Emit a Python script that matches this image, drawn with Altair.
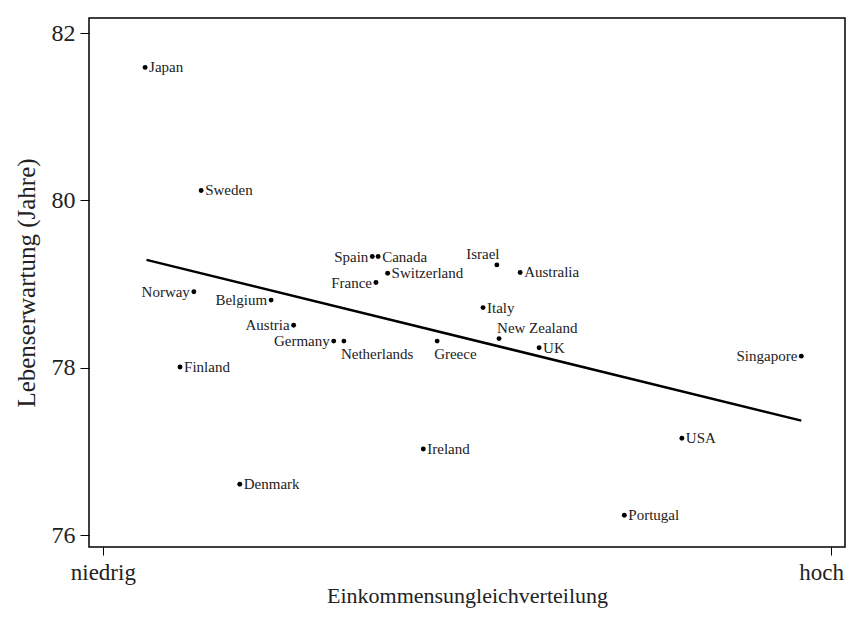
import altair as alt
import pandas as pd

# ---- data ----
countries = ["Japan", "Sweden", "Norway", "Belgium", "Austria", "Germany", "Netherlands",
             "Finland", "Denmark", "Spain", "Canada", "France", "Switzerland", "Israel",
             "Australia", "Italy", "New Zealand", "UK", "Greece", "Ireland", "USA",
             "Portugal", "Singapore"]
inequality = [0.058, 0.135, 0.125, 0.231, 0.262, 0.317, 0.331,
              0.106, 0.188, 0.370, 0.378, 0.375, 0.391, 0.541,
              0.573, 0.522, 0.544, 0.599, 0.459, 0.440, 0.795,
              0.716, 0.959]
life_exp = [81.59, 80.12, 78.91, 78.81, 78.51, 78.32, 78.32,
            78.01, 76.61, 79.33, 79.33, 79.02, 79.13, 79.23,
            79.14, 78.72, 78.35, 78.24, 78.32, 77.03, 77.16,
            76.24, 78.14]
label_side = ["r", "r", "l", "l", "l", "l", "below",
              "r", "r", "l", "r", "l", "r", "above",
              "r", "r", "aboveright", "r", "below", "r", "r",
              "r", "l"]

fit_x = [0.060, 0.959]
fit_y = [79.29, 77.37]

x_tick_values = [0, 1]
x_tick_labels = ["niedrig", "hoch"]
y_tick_values = [76, 78, 80, 82]

x_title = "Einkommensungleichverteilung"
y_title = "Lebenserwartung (Jahre)"

FONT = "Liberation Serif"

df = pd.DataFrame({"country": countries, "x": inequality, "y": life_exp, "side": label_side})
fit_df = pd.DataFrame({"x": fit_x, "y": fit_y})

label_expr = " : ".join(
    [f"datum.value == {v} ? '{t}'" for v, t in zip(x_tick_values[:-1], x_tick_labels[:-1])]
    + [f"'{x_tick_labels[-1]}'"]
)

xscale = alt.Scale(domain=[-0.019, 1.019], nice=False, zero=False)
yscale = alt.Scale(domain=[75.86, 82.18], nice=False, zero=False)

xenc = alt.X("x:Q", scale=xscale,
             axis=alt.Axis(values=x_tick_values, labelExpr=label_expr, title=x_title,
                           tickSize=8, labelPadding=6, titlePadding=1,
                           labelFontSize=23, titleFontSize=22,
                           labelOffset={"condition": {"test": "datum.value == 1", "value": -10},
                                        "value": 0}))
yenc = alt.Y("y:Q", scale=yscale,
             axis=alt.Axis(values=y_tick_values, title=y_title, format="d",
                           tickSize=9, labelPadding=5, titlePadding=12,
                           labelFontSize=24, titleFontSize=25))

base = alt.Chart(df)

points = base.mark_circle(size=24, color="black", opacity=1).encode(x=xenc, y=yenc)

fit = alt.Chart(fit_df).mark_line(color="black", strokeWidth=2.5).encode(x="x:Q", y="y:Q")

def labels(side, align, dx, dy):
    return base.transform_filter(alt.datum.side == side).mark_text(
        align=align, baseline="middle", dx=dx, dy=dy, font=FONT, fontSize=15, color="#222"
    ).encode(x="x:Q", y="y:Q", text="country:N")

layers = [
    fit,
    points,
    labels("r", "left", 4, 0),
    labels("l", "right", -4, 0),
    labels("above", "center", -14, -11),
    labels("aboveright", "left", -2, -11),
    labels("below", "left", -3, 13),
]

chart = alt.layer(*layers).properties(
    width=756,
    height=529,
    autosize=alt.AutoSizeParams(type="none"),
    padding={"left": 81, "top": 10, "right": 1, "bottom": 62},
    background="white",
).configure_view(
    stroke="black", strokeWidth=1.5
).configure_axis(
    domain=False, grid=False, tickColor="black", tickWidth=1,
    labelFont=FONT, labelColor="#222",
    titleFont=FONT, titleColor="#222", titleFontWeight="normal",
)

chart.save("out.html", embed_options={"renderer": "svg", "actions": False})
